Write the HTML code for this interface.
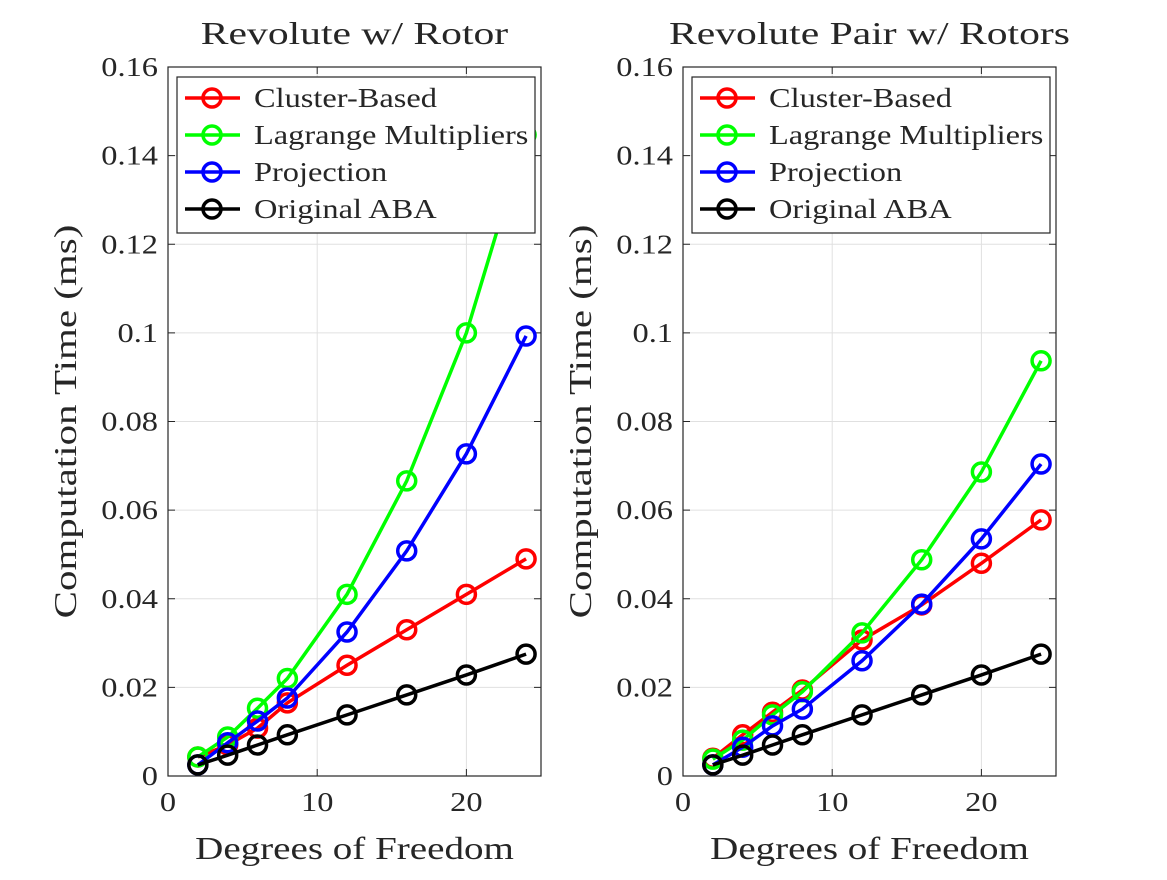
<!DOCTYPE html>
<html><head><meta charset="utf-8"><style>
body{margin:0;background:#fff;}
svg text{font-family:"Liberation Serif",serif;fill:#262626;}
</style></head><body>
<svg id="chart" width="1167" height="875" xmlns="http://www.w3.org/2000/svg"></svg>
<script>
const dof = [2,4,6,8,12,16,20,24];
const xTicks = [0,10,20];
const yTicks = [0,0.02,0.04,0.06,0.08,0.1,0.12,0.14,0.16];
const yTickLabels = ["0","0.02","0.04","0.06","0.08","0.1","0.12","0.14","0.16"];
const seriesNames = ["Cluster-Based","Lagrange Multipliers","Projection","Original ABA"];
const seriesColors = ["#ff0000","#00ff00","#0000ff","#000000"];
const leftCluster = [0.0043,0.007,0.0108,0.0165,0.025,0.033,0.041,0.049];
const leftLagrange = [0.0043,0.0088,0.0153,0.022,0.041,0.0666,0.1,0.1447];
const leftProjection = [0.0025,0.0075,0.0124,0.0176,0.0325,0.0508,0.0727,0.0993];
const leftABA = [0.0025,0.0047,0.007,0.0093,0.0138,0.0183,0.0228,0.0275];
const rightCluster = [0.004,0.0093,0.0144,0.0194,0.0307,0.0386,0.048,0.0578];
const rightLagrange = [0.0038,0.0081,0.0138,0.019,0.0323,0.0488,0.0686,0.0937];
const rightProjection = [0.0025,0.0065,0.0113,0.0151,0.026,0.0388,0.0535,0.0704];
const rightABA = [0.0025,0.0047,0.007,0.0093,0.0138,0.0183,0.0228,0.0275];

const NS="http://www.w3.org/2000/svg";
const svg=document.getElementById('chart');
function mk(tag,attrs,parent){const e=document.createElementNS(NS,tag);for(const k in attrs)e.setAttribute(k,attrs[k]);(parent||svg).appendChild(e);return e;}
function stretch(t,f){const w=t.getComputedTextLength();t.setAttribute('textLength',w*f);t.setAttribute('lengthAdjust','spacingAndGlyphs');}

function panel(x0,title,series,prefix){
  const x1=x0+373, yTop=67, yBot=776;
  const sx=v=>x0+v*(x1-x0)/25;
  const sy=v=>yBot-v*(yBot-yTop)/0.16;
  const g=mk('g',{});
  
  
  mk('rect',{x:x0,y:yTop,width:x1-x0,height:yBot-yTop,fill:'#fff'},g);
  xTicks.forEach(t=>{const l=mk('line',{x1:sx(t),x2:sx(t),y1:yTop,y2:yBot,stroke:'#e0e0e0','stroke-width':1},g);
    
    mk('line',{x1:sx(t),x2:sx(t),y1:yBot,y2:yBot-7,stroke:'#262626'},g);
    mk('line',{x1:sx(t),x2:sx(t),y1:yTop,y2:yTop+7,stroke:'#262626'},g);
    const tx=mk('text',{x:sx(t),y:yBot+35,'text-anchor':'middle','font-size':27},g);tx.textContent=t;stretch(tx,1.2);
    });
  yTicks.forEach((t,i)=>{const l=mk('line',{x1:x0,x2:x1,y1:sy(t),y2:sy(t),stroke:'#e0e0e0','stroke-width':1},g);
    
    mk('line',{x1:x0,x2:x0+7,y1:sy(t),y2:sy(t),stroke:'#262626'},g);
    mk('line',{x1:x1,x2:x1-7,y1:sy(t),y2:sy(t),stroke:'#262626'},g);
    const tx=mk('text',{x:x0-10,y:sy(t)+9,'text-anchor':'end','font-size':27},g);tx.textContent=yTickLabels[i];stretch(tx,1.2);
    });
  mk('rect',{x:x0,y:yTop,width:x1-x0,height:yBot-yTop,fill:'none',stroke:'#262626','stroke-width':1.2},g);
  series.forEach((vals,si)=>{
    const p=mk('polyline',{points:vals.map((v,i)=>sx(dof[i])+','+sy(v)).join(' '),fill:'none',stroke:seriesColors[si],'stroke-width':3.5},g);
    
    vals.forEach((v,i)=>{const c=mk('circle',{cx:sx(dof[i]),cy:sy(v),r:9,fill:'none',stroke:seriesColors[si],'stroke-width':3.5},g);
      });
  });
  const tt=mk('text',{x:(x0+x1)/2,y:44,'text-anchor':'middle','font-size':32,fill:'#000'},g);tt.textContent=title;stretch(tt,1.3);
  
  const xl=mk('text',{x:(x0+x1)/2,y:859,'text-anchor':'middle','font-size':32},g);xl.textContent='Degrees of Freedom';stretch(xl,1.22);
  
  const yl=mk('text',{x:0,y:0,'text-anchor':'middle','font-size':32,transform:`translate(${x0-92},${(yTop+yBot)/2}) rotate(-90)`},g);yl.textContent='Computation Time (ms)';stretch(yl,1.28);
  
  const lg=mk('g',{},g);
  
  mk('rect',{x:x0+9,y:77,width:358,height:156,fill:'#fff',stroke:'#262626','stroke-width':1.2},lg);
  seriesNames.forEach((n,i)=>{const yy=98+i*37;
    const e=mk('g',{},lg);
    mk('line',{x1:x0+17,x2:x0+72,y1:yy,y2:yy,stroke:seriesColors[i],'stroke-width':3.5},e);
    mk('circle',{cx:x0+44,cy:yy,r:9,fill:'none',stroke:seriesColors[i],'stroke-width':3.5},e);
    const t=mk('text',{x:x0+86,y:yy+9,'font-size':27,fill:'#000'},e);t.textContent=n;stretch(t,1.2);});
}
panel(168,'Revolute w/ Rotor',[leftCluster,leftLagrange,leftProjection,leftABA],'left');
panel(683,'Revolute Pair w/ Rotors',[rightCluster,rightLagrange,rightProjection,rightABA],'right');
</script>
</body></html>
